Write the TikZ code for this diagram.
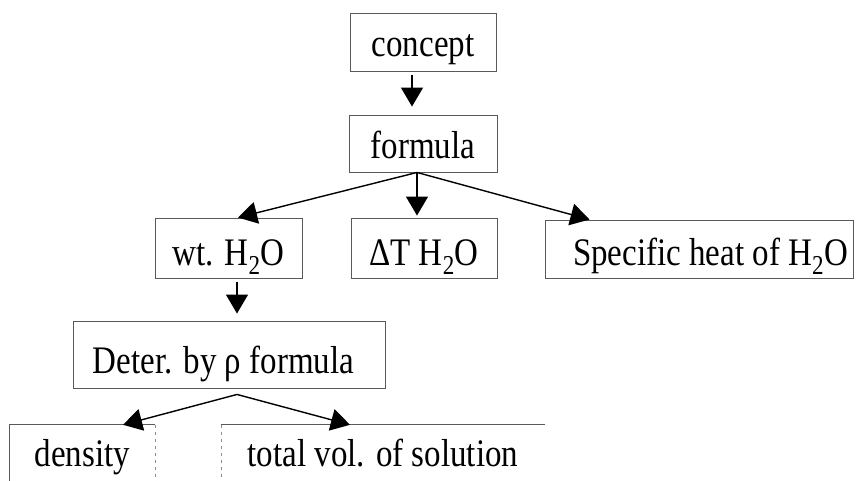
\documentclass[tikz,border=0pt]{standalone}
\usepackage{fontspec}
\setmainfont{Liberation Serif}[FakeStretch=0.846]
\usetikzlibrary{arrows.meta,calc}
\begin{document}
\begin{tikzpicture}[x=1pt,y=-1pt,
  label font/.style={font=\fontsize{39}{44}\selectfont, text depth=0pt},
  box/.style={draw=black!65, line width=0.9pt, inner sep=0pt, label font},
  openbox/.style={inner sep=0pt, label font},
  rim/.style={draw=black!65, line width=0.9pt},
  faintrim/.style={draw=black!45, line width=0.6pt, dash pattern=on 3pt off 4pt},
  link/.style={line width=1.4pt, -{Triangle[length=19pt,width=22pt]}},
]
\useasboundingbox (0,0) rectangle (857,480);

% boxes (text height sets where the baseline sits inside each box)
\node[box, minimum width=146, minimum height=58, text height=28] (concept) at (423,42) {concept};
\node[box, minimum width=148, minimum height=57, text height=29] (formula) at (423,143.5) {formula};
\node[box, minimum width=147, minimum height=60, text height=34] (wt) at (228.5,248) {wt. H\textsubscript{2}O};
\node[box, minimum width=146, minimum height=60, text height=34] (dT) at (424,248) {ΔT H\textsubscript{2}O};
\node[box, minimum width=308, minimum height=58, text height=32] (heat) at (699,249) {\hspace*{23pt}Specific heat of H\textsubscript{2}O};
\node[box, minimum width=312, minimum height=67, text height=37] (deter) at (229,354.5) {Deter. by ρ formula\hspace*{11pt}};
\node[openbox, minimum width=145, minimum height=62, text height=20] (density) at (82.5,456) {density};
\node[openbox, minimum width=324, minimum height=62, text height=20] (total) at (383,456) {total vol. of solution};

% the two bottom boxes run off the lower edge
\draw[rim] (density.south west) -- (density.north west) -- (density.north east);
\draw[faintrim] (density.north east) -- (density.south east);
\draw[rim] (total.north west) -- (total.north east);
\draw[faintrim] (total.north west) -- (total.south west);

% connectors
\draw[link] ($(concept.south)+(-11,4)$) -- ($(formula.north)+(-11,-8)$);
\coordinate (split) at ($(formula.south)+(-6,0)$);
\draw[link] (split) -- ($(wt.north)+(9.5,0)$);
\draw[link] (split) -- ($(dT.north)+(-7,-2)$);
\draw[link] (split) -- ($(heat.north west)+(45,0)$);
\draw[link] ($(wt.south)+(8.5,4)$) -- ($(deter.north)+(8,-7)$);
\coordinate (fork) at ($(deter.south)+(8,6)$);
\draw[link] (fork) -- ($(density.north)+(40.5,0)$);
\draw[link] (fork) -- ($(total.north)+(-33,0)$);
\end{tikzpicture}
\end{document}
